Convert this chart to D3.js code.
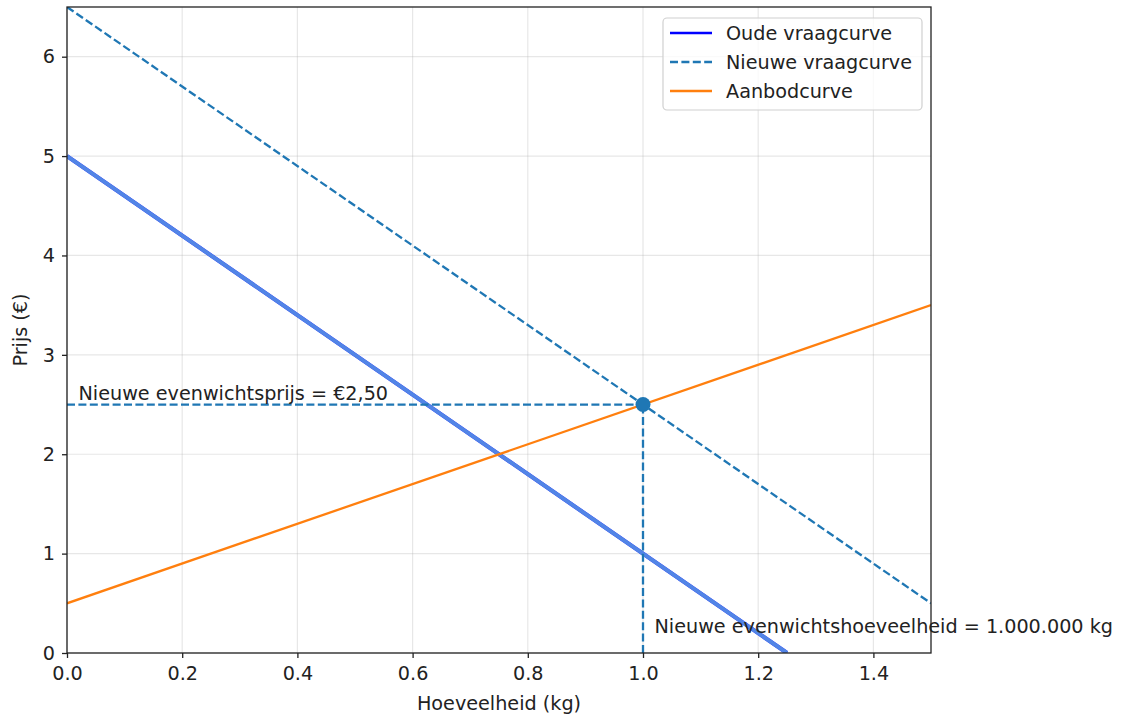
<!DOCTYPE html>
<html><head><meta charset="utf-8">
<script src="https://cdn.jsdelivr.net/npm/d3@7"></script>
<style>body{margin:0;background:#fff;} text{font-family:"DejaVu Sans",sans-serif;}</style>
</head><body>
<svg id="c" width="1123" height="715"></svg>
<script>
// Data
const qOld = [0, 1.25];
const pOld = [5, 0];
const qNew = [0, 1.5];
const pNew = [6.5, 0.5];
const qSup = [0, 1.5];
const pSup = [0.5, 3.5];
const eqQ = 1.0, eqP = 2.5;
const xTicks = [0, 0.2, 0.4, 0.6, 0.8, 1.0, 1.2, 1.4];
const yTicks = [0, 1, 2, 3, 4, 5, 6];
const legendLabels = ["Oude vraagcurve", "Nieuwe vraagcurve", "Aanbodcurve"];
const priceText = "Nieuwe evenwichtsprijs = €2,50";
const qtyText = "Nieuwe evenwichtshoeveelheid = 1.000.000 kg";

const L = 67, R = 931, T = 7, B = 653;
const svg = d3.select("#c");
const x = d3.scaleLinear().domain([0, 1.5]).range([L, R]);
const y = d3.scaleLinear().domain([0, 6.5]).range([B, T]);
const fs = 19.2;

// grid
const g = svg.append("g");
g.selectAll(".gx").data(xTicks).enter().append("line")
  .attr("x1", d => x(d)).attr("x2", d => x(d)).attr("y1", T).attr("y2", B)
  .attr("stroke", "#b0b0b0").attr("stroke-opacity", 0.3).attr("stroke-width", 1.2);
g.selectAll(".gy").data(yTicks).enter().append("line")
  .attr("x1", L).attr("x2", R).attr("y1", d => y(d)).attr("y2", d => y(d))
  .attr("stroke", "#b0b0b0").attr("stroke-opacity", 0.3).attr("stroke-width", 1.2);

svg.append("clipPath").attr("id", "clip").append("rect")
  .attr("x", L).attr("y", T).attr("width", R - L).attr("height", B - T);
const plot = svg.append("g").attr("clip-path", "url(#clip)");
const line = d3.line().x(d => x(d[0])).y(d => y(d[1]));
const pts = (qs, ps) => qs.map((q, i) => [q, ps[i]]);
const dash = "8,3.4";

// old demand: blue with a highlighted overlay
plot.append("path").attr("d", line(pts(qOld, pOld))).attr("fill", "none")
  .attr("stroke", "#0000ff").attr("stroke-width", 4);
plot.append("path").attr("d", line(pts(qOld, pOld))).attr("fill", "none")
  .attr("stroke", "#5b93e3").attr("stroke-width", 4).attr("stroke-opacity", 0.9);

// new demand dashed
plot.append("path").attr("d", line(pts(qNew, pNew))).attr("fill", "none")
  .attr("stroke", "#1f77b4").attr("stroke-width", 2.3).attr("stroke-dasharray", dash);
// supply
plot.append("path").attr("d", line(pts(qSup, pSup))).attr("fill", "none")
  .attr("stroke", "#ff7f0e").attr("stroke-width", 2.3);

// equilibrium guides
plot.append("path").attr("d", line([[0, eqP], [eqQ, eqP]])).attr("fill", "none")
  .attr("stroke", "#1f77b4").attr("stroke-width", 2.3).attr("stroke-dasharray", dash);
plot.append("path").attr("d", line([[eqQ, 0], [eqQ, eqP]])).attr("fill", "none")
  .attr("stroke", "#1f77b4").attr("stroke-width", 2.3).attr("stroke-dasharray", dash);
svg.append("circle").attr("cx", x(eqQ)).attr("cy", y(eqP)).attr("r", 7.5).attr("fill", "#1f77b4");

// axes
const xAxis = d3.axisBottom(x).tickValues(xTicks).tickFormat(d3.format(".1f")).tickSize(5).tickPadding(8);
const yAxis = d3.axisLeft(y).tickValues(yTicks).tickFormat(d3.format("d")).tickSize(5).tickPadding(7);
const ax = svg.append("g").attr("transform", `translate(0,${B})`).call(xAxis);
const ay = svg.append("g").attr("transform", `translate(${L},0)`).call(yAxis);
[ax, ay].forEach(a => {
  a.select(".domain").remove();
  a.selectAll("text").attr("font-size", fs).attr("fill", "#222").attr("font-family", "DejaVu Sans");
  a.selectAll("line").attr("stroke", "#222").attr("stroke-width", 1.3);
});
svg.append("rect").attr("x", L).attr("y", T).attr("width", R - L).attr("height", B - T)
  .attr("fill", "none").attr("stroke", "#222").attr("stroke-width", 1.3);

// labels
svg.append("text").attr("x", (L + R) / 2).attr("y", 710).attr("text-anchor", "middle")
  .attr("font-size", fs).attr("fill", "#222").text("Hoeveelheid (kg)");
svg.append("text").attr("transform", `translate(27,${(T + B) / 2}) rotate(-90)`).attr("text-anchor", "middle")
  .attr("font-size", fs).attr("fill", "#222").text("Prijs (€)");

// annotations
svg.append("text").attr("x", x(0.02)).attr("y", y(2.55)).attr("font-size", fs).attr("fill", "#222").text(priceText);
svg.append("text").attr("x", x(1.02)).attr("y", y(0.2)).attr("font-size", fs).attr("fill", "#222").text(qtyText);

// legend
const lg = svg.append("g");
lg.append("rect").attr("x", 663).attr("y", 18).attr("width", 259).attr("height", 92).attr("rx", 4)
  .attr("fill", "#fff").attr("fill-opacity", 0.8).attr("stroke", "#d0d0d0").attr("stroke-width", 1.2);
const lstyles = [
  {c: "#0000ff", d: null},
  {c: "#1f77b4", d: dash},
  {c: "#ff7f0e", d: null}
];
legendLabels.forEach((t, i) => {
  const yy = 33 + i * 29;
  lg.append("line").attr("x1", 670).attr("x2", 712).attr("y1", yy).attr("y2", yy)
    .attr("stroke", lstyles[i].c).attr("stroke-width", 2.3).attr("stroke-dasharray", lstyles[i].d);
  lg.append("text").attr("x", 726).attr("y", yy + 7).attr("font-size", fs).attr("fill", "#222").text(t);
});
</script>
</body></html>
